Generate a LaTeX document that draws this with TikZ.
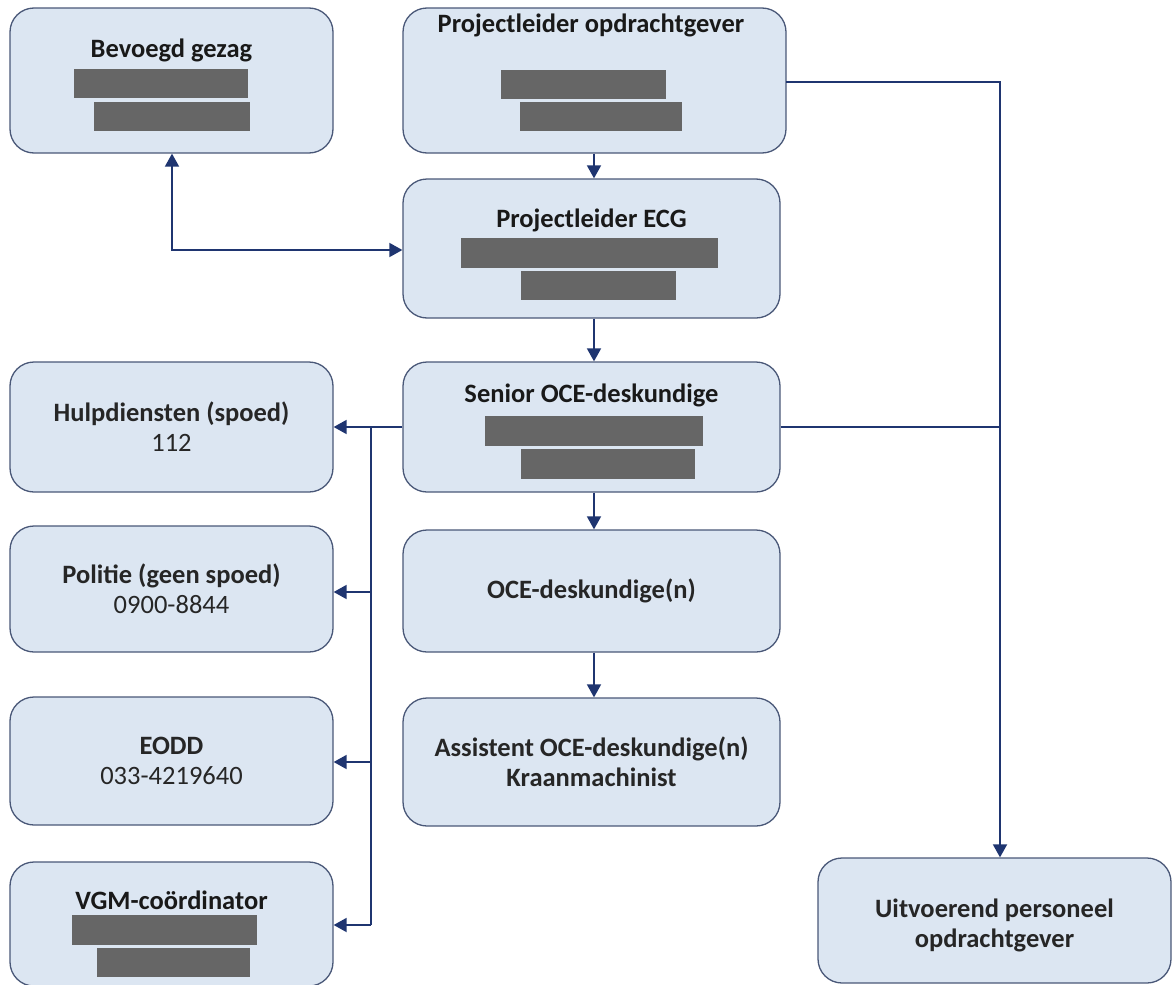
\documentclass[tikz,border=0pt]{standalone}
\usepackage{fontspec}
\setmainfont{Carlito}
\usetikzlibrary{arrows.meta}
\definecolor{boxfill}{HTML}{DCE6F2}
\definecolor{boxline}{HTML}{4A5878}
\definecolor{conn}{HTML}{1F3570}
\definecolor{bar}{HTML}{666666}
\tikzset{
  box/.style={draw=boxline, fill=boxfill, line width=1.3pt, rounded corners=24pt, inner sep=0pt},
  title/.style={font=\fontsize{26.5}{30}\selectfont\bfseries, inner sep=0pt, text=black!90},
  txt/.style={font=\fontsize{26.5}{30}\selectfont, align=center, text=black!85},
  link/.style={draw=conn, line width=1.8pt},
  arr/.style={link, -{Triangle[length=13pt,width=14pt]}},
  arrs/.style={link, {Triangle[length=13pt,width=14pt]}-{Triangle[length=13pt,width=14pt]}}
}
\begin{document}
\begin{tikzpicture}[x=1pt,y=-1pt]
\useasboundingbox (0,0) rectangle (1173,985);
\clip (0,0) rectangle (1173,985);
% boxes
\node[box, minimum width=323pt, minimum height=145pt] (bev) at (171.5,80.5) {};
\node[box, minimum width=383pt, minimum height=145pt] (po) at (594.5,80.5) {};
\node[box, minimum width=377pt, minimum height=139pt] (ecg) at (591.5,248.5) {};
\node[box, minimum width=377pt, minimum height=130pt] (sen) at (591.5,427) {};
\node[box, minimum width=377pt, minimum height=122pt, txt] (oce) at (591.5,591) {\textbf{OCE-deskundige(n)}};
\node[box, minimum width=377pt, minimum height=128pt, txt] (ass) at (591.5,762) {\textbf{Assistent OCE-deskundige(n)}\\\textbf{Kraanmachinist}};
\node[box, minimum width=323pt, minimum height=130pt, txt] (hulp) at (171.5,427) {\textbf{Hulpdiensten (spoed)}\\112};
\node[box, minimum width=323pt, minimum height=126pt, txt] (pol) at (171.5,589) {\textbf{Politie (geen spoed)}\\0900-8844};
\node[box, minimum width=323pt, minimum height=128pt, txt] (eodd) at (171.5,761) {\textbf{EODD}\\033-4219640};
\node[box, minimum width=323pt, minimum height=124pt] (vgm) at (171.5,924) {};
\node[box, minimum width=353pt, minimum height=125pt] (uit) at (994.5,920.5) {};
\node[txt] (uittxt) at (994.5,925) {\textbf{Uitvoerend personeel}\\\textbf{opdrachtgever}};
% titles
\node[title] (bevt) at (171.5,50) {Bevoegd gezag};
\node[title] (pot) at (591,25) {Projectleider opdrachtgever};
\node[title] (ecgt) at (591.5,220) {Projectleider ECG};
\node[title] (sent) at (591.5,395) {Senior OCE-deskundige};
\node[title] (vgmt) at (171.5,900) {VGM-co\"ordinator};
% redaction bars
\fill[bar] (74,69) rectangle (248,98);
\fill[bar] (94,102) rectangle (250,131);
\fill[bar] (501,70) rectangle (666,99);
\fill[bar] (520,102) rectangle (682,131);
\fill[bar] (461,238) rectangle (718,268);
\fill[bar] (521,271) rectangle (676,300);
\fill[bar] (485,416) rectangle (703,446);
\fill[bar] (521,449) rectangle (695,479);
\fill[bar] (72,915) rectangle (257,945);
\fill[bar] (97,948) rectangle (250,977);
% junction coordinates
\coordinate (pr) at (786,82);
\coordinate (rtop) at (1000,82);
\coordinate (rmid) at (1000,427);
\coordinate (lj) at (371,427);
\coordinate (lpol) at (371,592);
\coordinate (leodd) at (371,762);
\coordinate (lvgm) at (371,925);
\coordinate (bevc) at (172,250);
% connectors
\draw[arrs] (bev.south -| bevc) -- (bevc) -- (ecg.west |- bevc);
\draw[arr] (po.south -| 594,0) -- (ecg.north -| 594,0);
\draw[arr] (ecg.south -| 594,0) -- (sen.north -| 594,0);
\draw[arr] (sen.south -| 594,0) -- (oce.north -| 594,0);
\draw[arr] (oce.south -| 594,0) -- (ass.north -| 594,0);
\draw[link] (pr) -- (rtop) -- (rmid);
\draw[arr] (rmid) -- (uit.north -| rmid);
\draw[link] (sen.east |- rmid) -- (rmid);
\draw[arr] (sen.west |- lj) -- (hulp.east |- lj);
\draw[link] (lj) -- (lvgm);
\draw[arr] (lpol) -- (pol.east |- lpol);
\draw[arr] (leodd) -- (eodd.east |- leodd);
\draw[arr] (lvgm) -- (vgm.east |- lvgm);
\end{tikzpicture}
\end{document}
